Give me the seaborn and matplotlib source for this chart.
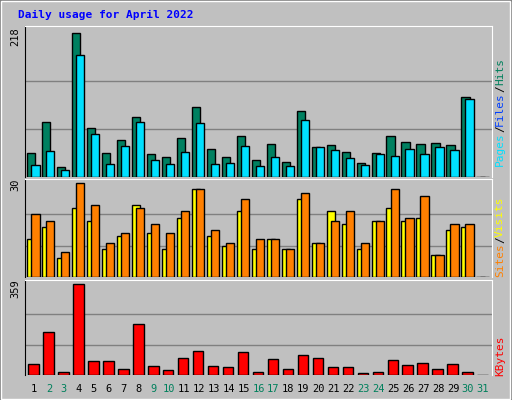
import numpy as np
import matplotlib
matplotlib.use("Agg")
import matplotlib.pyplot as plt
import seaborn as sns
from matplotlib.patches import Rectangle

#%% data
days = list(range(1, 32))
weekend = [2, 3, 9, 10, 16, 17, 23, 24, 30, 31]
hits = [36, 83, 15, 218, 74, 36, 56, 91, 34, 30, 59, 105, 42, 30, 62,
        25, 50, 22, 100, 46, 48, 37, 21, 36, 62, 53, 50, 52, 49, 120, 0]
pages = [18, 39, 10, 184, 65, 19, 47, 83, 25, 19, 37, 82, 19, 21, 47,
         16, 30, 16, 86, 45, 40, 28, 18, 34, 31, 42, 34, 46, 40, 117, 0]
visits = [12, 16, 6, 22, 18, 9, 13, 23, 14, 9, 19, 28, 13, 10, 21,
          9, 12, 9, 25, 11, 21, 17, 9, 18, 22, 18, 19, 7, 15, 16, 0]
sites = [20, 18, 8, 30, 23, 11, 14, 22, 17, 14, 21, 28, 15, 11, 25,
         12, 12, 9, 27, 11, 18, 21, 11, 18, 28, 19, 26, 7, 17, 17, 0]
kbytes = [45, 170, 13, 359, 56, 56, 25, 203, 37, 21, 68, 96, 37, 33, 92,
          13, 64, 25, 80, 68, 33, 33, 9, 13, 60, 41, 48, 25, 45, 13, 0]

#%% figure
sns.set_style("white")
plt.rcParams['font.family'] = ['DejaVu Sans Mono']
W, H = 512, 400
fig = plt.figure(figsize=(W / 100, H / 100), dpi=100, facecolor="#c0c0c0")

# 3D frame
fig.patches.append(Rectangle((0, 0), 1, 1, transform=fig.transFigure, fill=False,
                             edgecolor="#808080", linewidth=2))
fig.patches.append(Rectangle((0.002, 0.003), 0.995, 0.994, transform=fig.transFigure,
                             fill=False, edgecolor="white", linewidth=1))

def px_axes(x0, y0, x1, y1):
    return fig.add_axes([x0 / W, 1 - y1 / H, (x1 - x0) / W, (y1 - y0) / H])

x = np.array(days)
panels = [
    (26, 177, max(hits), [(hits, "#008060", -0.45), (pages, "#00e0ff", -0.18)], 0.55),
    (179, 277, max(sites), [(visits, "#ffff00", -0.45), (sites, "#ff8000", -0.18)], 0.55),
    (280, 375, max(kbytes), [(kbytes, "#ff0000", -0.38)], 0.7),
]
axes = []
for y0, y1, top, series, w in panels:
    ax = px_axes(25, y0, 492, y1)
    ax.set_facecolor("#c0c0c0")
    for vals, col, off in series:
        ax.bar(x + off, vals, width=w, align="edge", color=col,
               edgecolor="black", linewidth=1, zorder=3)
    ax.set_xlim(0.4, 31.6)
    ax.set_ylim(0, top * 1.045)
    for g in (top / 3, 2 * top / 3):
        ax.axhline(g, color="#808080", linewidth=1, zorder=1)
    ax.set_xticks([])
    ax.set_yticks([])
    for s in ax.spines.values():
        s.set_visible(False)
    ax.spines["top"].set_visible(True)
    ax.spines["top"].set_color("white")
    ax.spines["right"].set_visible(True)
    ax.spines["right"].set_color("white")
    ax.spines["left"].set_visible(True)
    ax.spines["left"].set_color("black")
    axes.append(ax)

# max labels on the left
for label, yy in [("218", 37), ("30", 185), ("359", 289)]:
    fig.text(15 / W, 1 - yy / H, label, rotation=90, ha="center", va="center",
             fontsize=7.5, color="black")

# day labels
for d in days:
    fig.text((25 + (d - 0.4) / 31.2 * 467) / W, 1 - 389 / H, str(d), ha="center",
             va="center", fontsize=7.5,
             color="#00805c" if d in weekend else "black")

# title
fig.text(18 / W, 1 - 15 / H, "Daily usage for April 2022", fontsize=8,
         fontweight="bold", color="#0000ff", va="center")

# right-hand legends, stacked bottom to top
def side_label(parts, ybottom):
    y = ybottom
    for txt, col in parts:
        fig.text(500 / W, 1 - y / H, txt, rotation=90, ha="center", va="bottom",
                 fontsize=8, color=col)
        y -= len(txt) * 6.75

side_label([("Pages", "#00e0ff"), ("/", "black"), ("Files", "#0040ff"),
            ("/", "black"), ("Hits", "#00805c")], 166)
side_label([("Sites", "#ff8000"), ("/", "black"), ("Visits", "#ffff00")], 277)
side_label([("KBytes", "#ff0000")], 376)

fig.savefig("out.png", dpi=100, facecolor=fig.get_facecolor())
